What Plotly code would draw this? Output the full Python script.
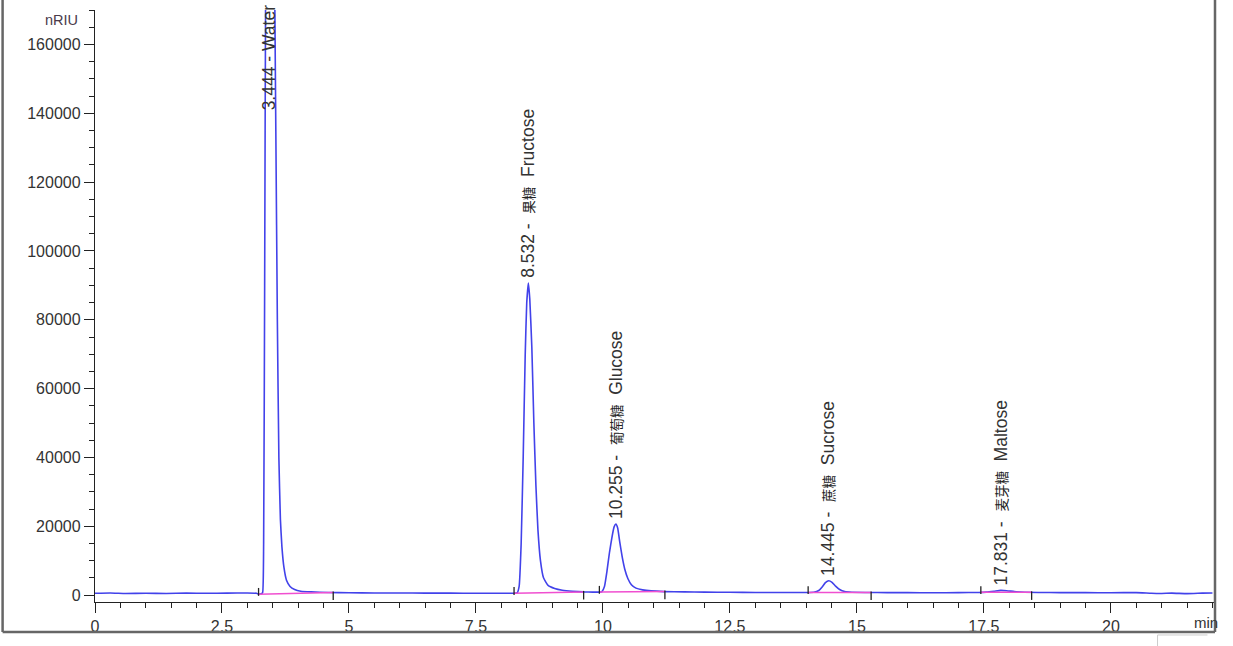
import plotly.graph_objects as go
import numpy as np

# ---------------- data ----------------
time_min = [
    0.0, 0.3, 0.6, 1.0, 1.4, 1.8, 2.2, 2.6, 3.0, 3.18, 3.22, 3.27, 3.30,
    3.32, 3.34, 3.36, 3.40, 3.444, 3.49, 3.53, 3.56, 3.59, 3.62, 3.65, 3.68,
    3.72, 3.77, 3.84, 3.93, 4.05, 4.25, 4.6, 5.0, 5.5, 6.0, 6.5, 7.0, 7.5,
    8.0, 8.25, 8.31, 8.35, 8.39, 8.43, 8.47, 8.50, 8.532, 8.56, 8.60, 8.64,
    8.68, 8.72, 8.77, 8.83, 8.92, 9.05, 9.2, 9.4, 9.62, 9.8, 9.93, 9.98,
    10.03, 10.08, 10.13, 10.18, 10.22, 10.255, 10.29, 10.33, 10.38, 10.43,
    10.49, 10.56, 10.65, 10.78, 10.95, 11.2, 11.6, 12.0, 12.5, 13.0, 13.5,
    14.0, 14.15, 14.25, 14.32, 14.38, 14.445, 14.51, 14.58, 14.66, 14.76,
    14.9, 15.2, 15.6, 16.0, 16.5, 17.0, 17.4, 17.55, 17.7, 17.831, 17.95,
    18.1, 18.3, 18.6, 19.0, 19.5, 20.0, 20.5, 20.8, 21.0, 21.2, 21.5, 21.8,
    22.0,
]
signal_nriu = [
    500, 600, 450, 500, 450, 550, 500, 550, 600, 500, 250, 350, 700,
    15000, 90000, 180000, 250000, 275000, 250000, 190000, 135000, 80000,
    40000, 22000, 14000, 8000, 4300, 2500, 1600, 1100, 900, 750, 650, 600,
    600, 550, 550, 500, 500, 500, 600, 2500, 15000, 40000, 70000, 85000,
    90700, 86000, 72000, 50000, 32000, 19000, 10000, 5000, 2800, 1900, 1400,
    1100, 900, 850, 850, 1000, 2500, 7000, 12500, 17000, 19800, 20600, 19500,
    15500, 11000, 7500, 4800, 3000, 2000, 1500, 1200, 1000, 900, 850, 800,
    750, 750, 750, 800, 1300, 2400, 3600, 4150, 3700, 2600, 1600, 1000, 800,
    750, 700, 700, 650, 700, 750, 850, 1100, 1350, 1250, 1000, 800, 750, 700,
    700, 650, 700, 500, 450, 550, 400, 550, 600,
]

peak_times = [3.444, 8.532, 10.255, 14.445, 17.831]
peak_heights = [275000, 90700, 20600, 4150, 1350]
peak_cn = ["", "果糖", "葡萄糖", "蔗糖", "麦芽糖"]
peak_en = ["Water", "Fructose", "Glucose", "Sucrose", "Maltose"]

# integration baselines (start, end) in minutes
base_start = [3.22, 8.25, 9.93, 14.04, 17.44]
base_end = [4.69, 9.62, 11.22, 15.28, 18.44]

x_ticks = [0, 2.5, 5, 7.5, 10, 12.5, 15, 17.5, 20]
y_ticks = [0, 20000, 40000, 60000, 80000, 100000, 120000, 140000, 160000]

# ---------------- figure ----------------
FONT = "Liberation Sans, Arial, Noto Sans CJK SC, sans-serif"
YMAX_LABEL = 139400  # label position for the off-scale water peak
NB = "\u00a0"

fig = go.Figure()

# integration baselines (pink) and their start / end marks
bx, by, mx, my = [], [], [], []
for s, e in zip(base_start, base_end):
    vs = float(np.interp(s, time_min, signal_nriu))
    ve = float(np.interp(e, time_min, signal_nriu))
    bx += [s, e, None]
    by += [vs, ve, None]
    mx += [s, s, None, e, e, None]
    my += [vs - 500, vs + 1800, None, ve + 300, ve - 2200, None]

fig.add_trace(go.Scatter(x=time_min, y=signal_nriu, mode="lines",
                         line=dict(color="#4242ea", width=1.6, shape="spline",
                                   smoothing=0.4),
                         hoverinfo="skip", showlegend=False))
fig.add_trace(go.Scatter(x=bx, y=by, mode="lines",
                         line=dict(color="#f04fd0", width=1.5),
                         hoverinfo="skip", showlegend=False))
fig.add_trace(go.Scatter(x=mx, y=my, mode="lines",
                         line=dict(color="#222222", width=1.3),
                         hoverinfo="skip", showlegend=False))

# peak labels
for t, h, cn, en in zip(peak_times, peak_heights, peak_cn, peak_en):
    if cn:
        txt = (f"{t:.3f} -{NB}{NB}<span style='font-size:13.5px;color:#222'>"
               f"{cn}</span>{NB}{NB}{en}")
    else:
        txt = f"{t:.3f} - {en}"
    fig.add_annotation(x=t, y=min(h, YMAX_LABEL), text=txt, textangle=-90,
                       xanchor="center", yanchor="bottom", yshift=3,
                       showarrow=False,
                       font=dict(family=FONT, size=17.5, color="#333333"))

# axis unit labels
fig.add_annotation(xref="paper", yref="paper", x=-0.013, y=1.0, text="nRIU",
                   xanchor="right", yanchor="top", yshift=0, showarrow=False,
                   font=dict(family=FONT, size=14.5, color="#4a3a4a"))
fig.add_annotation(xref="paper", yref="paper", x=0.9795, y=-0.035, text="min",
                   xanchor="left", yanchor="middle", showarrow=False,
                   font=dict(family=FONT, size=15, color="#333333"))

# scanned page frame
fig.add_shape(type="line", xref="paper", yref="paper", x0=-0.0825, x1=-0.0825,
              y0=-0.0507, y1=1.03, line=dict(color="#666666", width=2.5))
fig.add_shape(type="line", xref="paper", yref="paper", x0=-0.0825, x1=1.0,
              y0=-0.0507, y1=-0.0507, line=dict(color="#666666", width=2.5))
fig.add_shape(type="line", xref="paper", yref="paper", x0=1.0, x1=1.0,
              y0=-0.0507, y1=1.03, line=dict(color="#666666", width=2.5))
fig.add_shape(type="line", xref="paper", yref="paper", x0=0.9487, x1=0.9933,
              y0=-0.0557, y1=-0.0557, line=dict(color="#cccccc", width=1))
fig.add_shape(type="line", xref="paper", yref="paper", x0=0.9487, x1=0.9487,
              y0=-0.0557, y1=-0.075, line=dict(color="#cccccc", width=1))

fig.update_layout(
    width=1233, height=646,
    margin=dict(l=95, r=18, t=10, b=44),
    paper_bgcolor="white", plot_bgcolor="white",
    showlegend=False,
    font=dict(family=FONT, size=16, color="#333333"),
    xaxis=dict(range=[0, 22.05], tickmode="array", tickvals=x_ticks,
               ticktext=[f"{v:g}" for v in x_ticks],
               showgrid=False, zeroline=False, showline=True,
               linecolor="#222222", linewidth=1.4,
               ticks="outside", ticklen=10, tickwidth=1.4, tickcolor="#222222",
               tickfont=dict(family=FONT, size=16, color="#333333"),
               minor=dict(dtick=0.5, ticks="outside", ticklen=5,
                          tickwidth=1.3, tickcolor="#222222", showgrid=False)),
    yaxis=dict(range=[-2030, 170050], tickmode="array", tickvals=y_ticks,
               ticktext=[str(v) for v in y_ticks],
               showgrid=False, zeroline=False, showline=True,
               linecolor="#222222", linewidth=1.4,
               ticks="outside", ticklen=10, tickwidth=1.4, tickcolor="#222222",
               tickfont=dict(family=FONT, size=16, color="#333333"),
               minor=dict(dtick=5000, ticks="outside", ticklen=5,
                          tickwidth=1.3, tickcolor="#222222", showgrid=False)),
)

fig.write_html("out.html",
               config={"displayModeBar": False},
               post_script="document.body.style.margin='0';"
                           "document.body.style.overflow='hidden';")
